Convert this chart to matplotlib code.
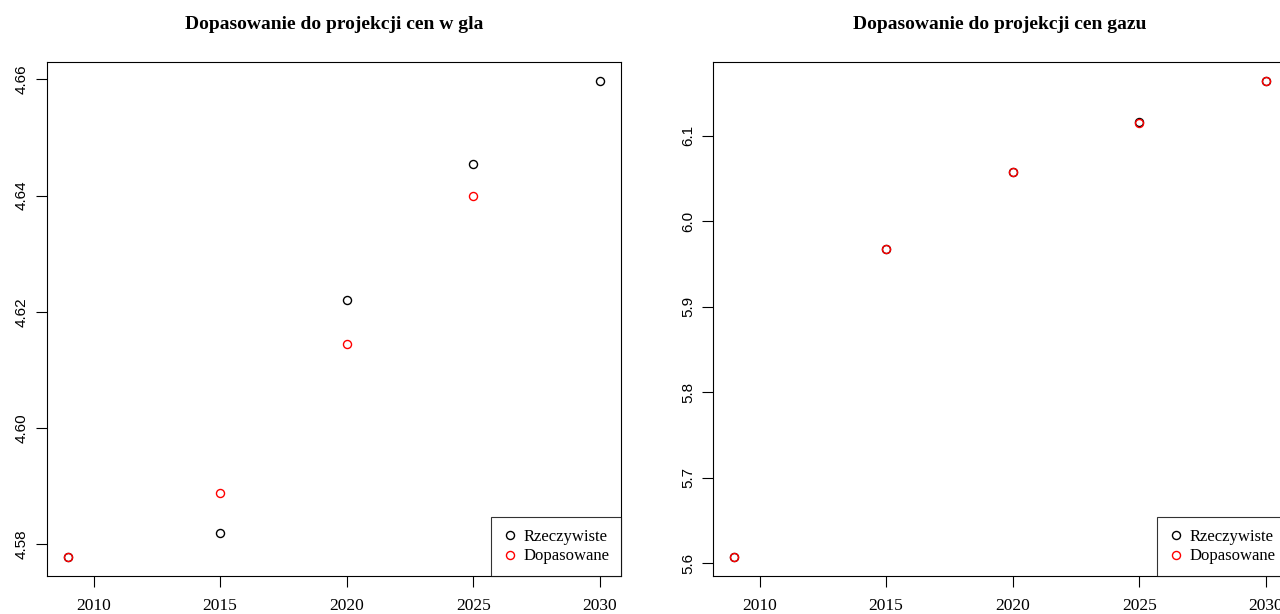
import matplotlib.pyplot as plt

# lata projekcji
years = [2009, 2015, 2020, 2025, 2030]

# ceny wegla (log) - rzeczywiste i dopasowane
coal_actual = [4.5778, 4.5819, 4.6221, 4.6455, 4.6597]
coal_fitted = [4.5778, 4.5888, 4.6144, 4.6400]

# ceny gazu (log) - rzeczywiste i dopasowane
gas_actual = [5.6075, 5.9675, 6.0578, 6.1157, 6.1640]
gas_fitted = [5.6075, 5.9675, 6.0578, 6.1150, 6.1640]

x_ticks = [2010, 2015, 2020, 2025, 2030]
coal_yticks = [4.58, 4.60, 4.62, 4.64, 4.66]
gas_yticks = [5.6, 5.7, 5.8, 5.9, 6.0, 6.1]

titles = ["Dopasowanie do projekcji cen w gla", "Dopasowanie do projekcji cen gazu"]
legend_labels = ["Rzeczywiste", "Dopasowane"]

SERIF = "Liberation Serif"
SANS = "Liberation Sans"

W, H = 1280, 614
fig = plt.figure(figsize=(W / 100, H / 100), dpi=100)

# pozycje paneli w pikselach (lewy, dolny, szerokosc, wysokosc)
panels = [(47, 38, 574, 514), (713, 38, 574, 514)]

data = [
    (coal_actual, coal_fitted, coal_yticks, "{:.2f}"),
    (gas_actual, gas_fitted, gas_yticks, "{:.1f}"),
]

for (px, py, pw, ph), (actual, fitted, yticks, fmt), title in zip(panels, data, titles):
    ax = fig.add_axes([px / W, py / H, pw / W, ph / H])
    ax.plot(years, actual, linestyle="none", marker="o", markersize=5.8,
            markerfacecolor="none", markeredgecolor="black", markeredgewidth=1,
            label=legend_labels[0])
    ax.plot(years[:len(fitted)], fitted, linestyle="none", marker="o", markersize=5.8,
            markerfacecolor="none", markeredgecolor="#ff0000", markeredgewidth=1,
            label=legend_labels[1])
    ax.margins(x=0.04, y=0.04)

    ax.set_xticks(x_ticks)
    ax.set_xticklabels([str(t) for t in x_ticks], fontfamily=SERIF, fontsize=12.5)
    ax.set_yticks(yticks)
    ax.set_yticklabels([fmt.format(t) for t in yticks], fontfamily=SANS, fontsize=11,
                       rotation=90, va="center")
    ax.tick_params(axis="both", direction="out", length=8, width=0.8, color="black")
    ax.tick_params(axis="x", pad=8)
    ax.tick_params(axis="y", pad=5)

    for sp in ax.spines.values():
        sp.set_linewidth(0.8)
        sp.set_color("black")

    ax.set_title(title, fontfamily=SERIF, fontweight="bold", fontsize=14, pad=24)

    leg = ax.legend(loc="lower right", prop={"family": SERIF, "size": 12},
                    frameon=True, fancybox=False, borderaxespad=0,
                    handletextpad=0.35, handlelength=0.9, labelspacing=0.2,
                    borderpad=0.7)
    leg.get_frame().set_edgecolor("black")
    leg.get_frame().set_linewidth(0.8)

fig.savefig("out.png", dpi=100)
